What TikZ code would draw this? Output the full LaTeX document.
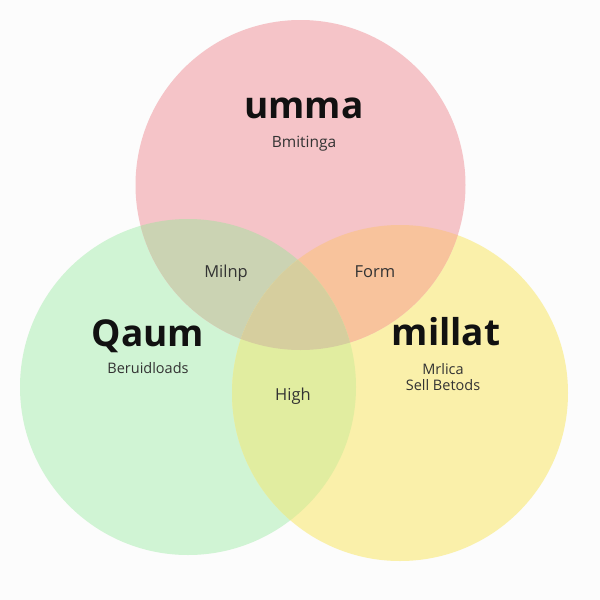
\documentclass[tikz,border=0pt]{standalone}
\usepackage{fontspec}
\setmainfont{Open Sans}
\definecolor{cpink}{HTML}{F5C4C8}
\definecolor{cgreen}{HTML}{D0F4D4}
\definecolor{cyellow}{HTML}{FAF0AA}
\definecolor{cpg}{HTML}{CBD3B3}
\definecolor{cpy}{HTML}{F8C39C}
\definecolor{cgy}{HTML}{E1EDA0}
\definecolor{call}{HTML}{D6CE9E}
\definecolor{ctitle}{HTML}{111111}
\definecolor{csub}{HTML}{333333}
\tikzset{
  titletext/.style={anchor=base, text=ctitle, font=\fontsize{37}{40}\selectfont\bfseries, inner sep=0pt},
  subtext/.style={anchor=base, text=csub, font=\fontsize{14.5}{16}\selectfont, inner sep=0pt},
  regiontext/.style={anchor=base, text=csub, font=\fontsize{16.5}{18}\selectfont, inner sep=0pt}
}
\begin{document}
\begin{tikzpicture}[x=1pt,y=-1pt]
\useasboundingbox (0,0) rectangle (600,600);
\fill[white!99!black] (0,0) rectangle (600,600);
\def\pc{(300.5,185) circle[radius=165]}
\def\gc{(188,387) circle[radius=168]}
\def\yc{(400,393) circle[radius=168]}
% base circles
\fill[cgreen] \gc;
\fill[cyellow] \yc;
\fill[cpink] \pc;
% pairwise overlaps
\begin{scope}\clip \pc; \fill[cpg] \gc; \end{scope}
\begin{scope}\clip \pc; \fill[cpy] \yc; \end{scope}
\begin{scope}\clip \gc; \fill[cgy] \yc; \end{scope}
% triple overlap
\begin{scope}\clip \pc; \clip \gc; \fill[call] \yc; \end{scope}
% labels
\node[titletext] (umma) at (304,118) {umma};
\node[subtext, font=\fontsize{15.5}{17}\selectfont] (bmitinga) at (304,147) {Bmitinga};
\node[titletext] (qaum) at (148,346) {Qaum};
\node[subtext] (beruid) at (148,373) {Beruidloads};
\node[titletext] (millat) at (446,345) {millat};
\node[subtext] (mrlica) at (443,374) {Mrlica};
\node[subtext] (sell) at (443,390) {Sell Betods};
\node[regiontext] (milnp) at (226,277) {Milnp};
\node[regiontext] (form) at (375,277) {Form};
\node[regiontext] (high) at (293,400) {High};
\end{tikzpicture}
\end{document}
